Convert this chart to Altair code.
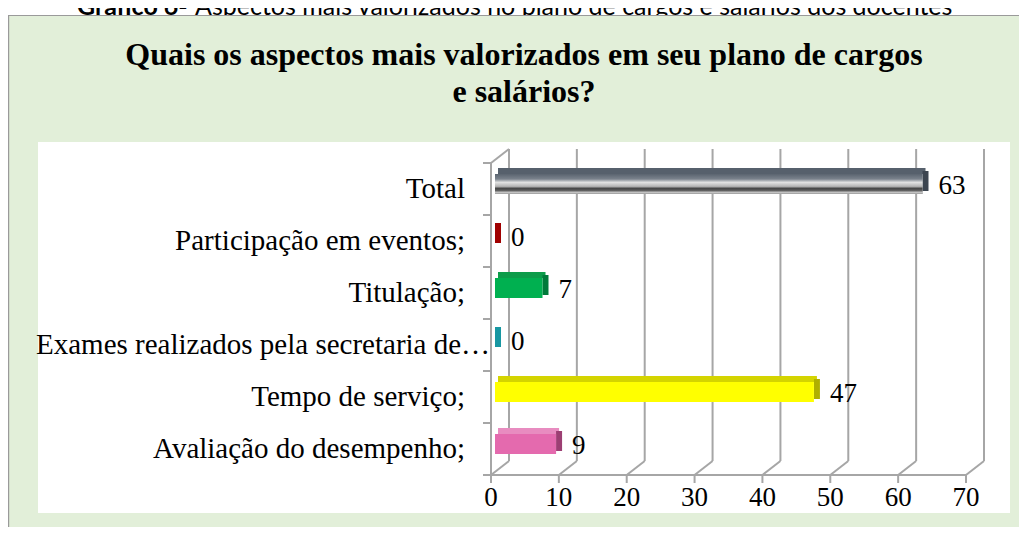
import altair as alt
import pandas as pd

# ---------------- data ----------------
categories = [
    "Total",
    "Participação em eventos;",
    "Titulação;",
    "Exames realizados pela secretaria de…",
    "Tempo de serviço;",
    "Avaliação do desempenho;",
]
values = [63, 0, 7, 0, 47, 9]
tick_values = [0, 10, 20, 30, 40, 50, 60, 70]

caption_bold = "Gráfico 6-"
caption_rest = "Aspectos mais valorizados no plano de cargos e salários dos docentes"
title_lines = "Quais os aspectos mais valorizados em seu plano de cargos\ne salários?"

# ---------------- styles ----------------
front_colors = ["#8a8f96", "#c00000", "#00b050", "#1fa9b5", "#ffff00", "#e46aae"]
top_colors = ["#56606c", "#d01010", "#0c9c4a", "#30b8c4", "#d4d400", "#e88cc0"]
side_colors = ["#3c4550", "#a00000", "#007a3a", "#1797a2", "#b0b000", "#9c3f73"]

GREEN = "#e2efd9"
GRID = "#a6a6a6"
SERIF = "Liberation Serif"

W, H = 1011, 519
df = pd.DataFrame({"cat": categories, "v": values})
tk = pd.DataFrame({"t": tick_values})
one = alt.Data(values=[{}])

xs = alt.Scale(domain=[0, 70], range=[483, 958], nice=False, zero=False)
ys = alt.Scale(domain=categories, range=[155, 467], paddingInner=0, paddingOuter=0)

X = lambda f: alt.X(f, scale=xs, axis=None)
Y = lambda **kw: alt.Y("cat:N", scale=ys, axis=None, **kw)

# ---------------- decorations ----------------
cap1 = alt.Chart(one).mark_text(align="left", baseline="alphabetic", font="Lato",
                                fontWeight="bold", fontSize=25, color="#000").encode(
    x=alt.value(69), y=alt.value(6.5), text=alt.value(caption_bold))
cap2 = alt.Chart(one).mark_text(align="left", baseline="alphabetic", font="Lato",
                                fontSize=25, color="#000").encode(
    x=alt.value(187), y=alt.value(6.5), text=alt.value(caption_rest))

frame = alt.Chart(one).mark_rect(fill=GREEN, stroke="#9a9a9a", strokeWidth=1.2).encode(
    x=alt.value(0.6), x2=alt.value(W + 20), y=alt.value(7.5), y2=alt.value(H + 20))
white = alt.Chart(one).mark_rect(fill="#ffffff").encode(
    x=alt.value(30), x2=alt.value(1002), y=alt.value(134), y2=alt.value(505))

title = alt.Chart(one).mark_text(align="center", baseline="alphabetic", font=SERIF,
                                 fontWeight="bold", fontSize=32, lineHeight=37,
                                 lineBreak="\n", color="#000").encode(
    x=alt.value(516), y=alt.value(57), text=alt.value(title_lines))

# ---------------- 3D frame / grid ----------------
back_grid = alt.Chart(tk).mark_rule(color=GRID, strokeWidth=2, xOffset=18).encode(
    x=X("t:Q"), y=alt.value(141), y2=alt.value(453))
floor_diag = alt.Chart(tk).mark_rule(color=GRID, strokeWidth=2, x2Offset=18).encode(
    x=X("t:Q"), x2="t:Q", y=alt.value(467), y2=alt.value(453))
floor_front = alt.Chart(tk).mark_rule(color=GRID, strokeWidth=2).encode(
    x=X("min(t):Q"), x2="max(t):Q", y=alt.value(467))
x_ticks = alt.Chart(tk).mark_rule(color=GRID, strokeWidth=2).encode(
    x=X("t:Q"), y=alt.value(467), y2=alt.value(475))
left_front = alt.Chart(tk).transform_filter(alt.datum.t == 0).mark_rule(
    color=GRID, strokeWidth=2).encode(x=X("t:Q"), y=alt.value(155), y2=alt.value(467))
left_top = alt.Chart(tk).transform_filter(alt.datum.t == 0).mark_rule(
    color=GRID, strokeWidth=2, x2Offset=18).encode(
    x=X("t:Q"), x2="t:Q", y=alt.value(155), y2=alt.value(141))
y_ticks0 = alt.Chart(df).mark_rule(color=GRID, strokeWidth=2, xOffset=-8).encode(
    x=alt.X("datum_zero:Q", scale=xs, axis=None), x2="datum_zero:Q",
    y=Y(bandPosition=0)).transform_calculate(datum_zero="0")
y_ticks1 = alt.Chart(df).mark_rule(color=GRID, strokeWidth=2, xOffset=-8).encode(
    x=alt.X("datum_zero:Q", scale=xs, axis=None), x2="datum_zero:Q",
    y=Y(bandPosition=1)).transform_calculate(datum_zero="0")

# ---------------- bars (pseudo 3D) ----------------
def col(rng):
    return alt.Color("cat:N", scale=alt.Scale(domain=categories, range=rng), legend=None)

bar_top = alt.Chart(df).mark_bar(height=6, yOffset=-18, xOffset=7, x2Offset=7).encode(
    x=X("v:Q"), x2=alt.datum(0), y=Y(), color=col(top_colors))
bar_front = alt.Chart(df).mark_bar(height=20, yOffset=-5, xOffset=4, x2Offset=4).encode(
    x=X("v:Q"), x2=alt.datum(0), y=Y(), color=col(front_colors))
bar_side = alt.Chart(df).mark_bar(height=20, yOffset=-8, xOffset=4, x2Offset=10).encode(
    x=X("v:Q"), x2="v:Q", y=Y(), color=col(side_colors))

total_grad = alt.Gradient(
    gradient="linear", x1=0, x2=0, y1=0, y2=1,
    stops=[
        alt.GradientStop(color="#5a6470", offset=0.0),
        alt.GradientStop(color="#7a828c", offset=0.25),
        alt.GradientStop(color="#e2e2e2", offset=0.42),
        alt.GradientStop(color="#b4b4b4", offset=0.62),
        alt.GradientStop(color="#484848", offset=0.72),
        alt.GradientStop(color="#5a5a5a", offset=0.82),
        alt.GradientStop(color="#c4c4c4", offset=0.92),
        alt.GradientStop(color="#9a9a9a", offset=1.0),
    ],
)
total_front = alt.Chart(df).transform_filter(alt.datum.cat == "Total").mark_bar(
    height=20, yOffset=-5, xOffset=4, x2Offset=4, color=total_grad).encode(
    x=X("v:Q"), x2=alt.datum(0), y=Y())

# ---------------- labels ----------------
val_labels = alt.Chart(df).mark_text(align="left", baseline="middle", font=SERIF,
                                     fontSize=27, dx=20, dy=-3, color="#000").encode(
    x=X("v:Q"), y=Y(), text="v:Q")
cat_labels = alt.Chart(df).transform_filter(
    alt.datum.cat != categories[3]).mark_text(
    align="right", baseline="middle", font=SERIF, fontSize=29, color="#000").encode(
    x=alt.value(457), y=Y(), text="cat:N")
cat_long = alt.Chart(df).transform_filter(
    alt.datum.cat == categories[3]).mark_text(
    align="left", baseline="middle", font=SERIF, fontSize=29, color="#000").encode(
    x=alt.value(28), y=Y(), text="cat:N")
tick_labels = alt.Chart(tk).mark_text(align="center", baseline="middle", font=SERIF,
                                      fontSize=27, color="#000").encode(
    x=X("t:Q"), y=alt.value(490), text="t:Q")

chart = alt.layer(
    cap1, cap2, frame, white, title,
    back_grid, floor_diag, floor_front, x_ticks, left_front, left_top, y_ticks0, y_ticks1,
    bar_top, bar_side, bar_front, total_front,
    val_labels, cat_labels, cat_long, tick_labels,
).resolve_scale(color="independent").properties(
    width=W, height=H, autosize=alt.AutoSizeParams(type="none"), padding=0,
    background="#ffffff",
).configure_view(stroke=None)

chart.save("out.html", embed_options={"renderer": "svg", "actions": False})
